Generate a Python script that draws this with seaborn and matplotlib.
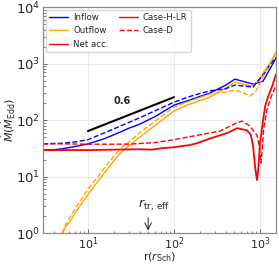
import numpy as np
import matplotlib
matplotlib.use("Agg")
from matplotlib import pyplot as plt
from matplotlib.lines import Line2D
import seaborn as sns

# Case-H-LR (solid)
r_in_h = [3, 4, 5, 7, 10, 15, 20, 30, 40, 60, 100, 150, 260, 400, 510, 650, 830, 1000, 1085, 1300, 1530]
in_h = [29.5, 30, 31, 34, 38, 46, 55, 72, 85, 115, 184, 225, 300, 417, 532, 480, 434, 470, 490, 800, 1250]
r_out_h = [5.1, 5.5, 6.2, 7, 8, 10, 12, 14, 17, 21, 25, 30, 40, 60, 100, 150, 260, 400, 510, 650, 800, 1000, 1100, 1300, 1530]
out_h = [1.0, 1.3, 1.6, 2.2, 3.0, 4.8, 7, 9.5, 14, 21, 28, 35, 50, 80, 145, 190, 255, 370, 470, 430, 400, 520, 710, 1000, 1600]
r_net_h = [3, 5, 10, 20, 40, 55, 75, 97, 150, 185, 260, 413, 541, 706, 780, 830, 880, 922, 960, 1000, 1085, 1150, 1240, 1400, 1535]
net_h = [29.5, 29.5, 29.5, 30, 30.5, 30, 32, 33, 36, 39, 47, 59, 72, 66, 55, 35, 14, 8.7, 15, 40, 100, 180, 260, 420, 650]

# Case-D (dashed)
r_in_d = [3, 5, 7, 10, 20, 40, 100, 150, 260, 400, 510, 650, 830, 1000, 1150, 1300, 1530]
in_d = [38, 39, 41, 45, 70, 110, 208, 260, 330, 360, 417, 400, 385, 550, 700, 950, 1300]
r_out_d = [5.0, 5.5, 6.2, 7, 8, 10, 12, 14, 17, 21, 25, 30, 40, 60, 100, 150, 260, 400, 510, 650, 765, 900, 1000, 1150, 1300, 1530]
out_d = [1.0, 1.4, 1.9, 2.6, 3.6, 6, 8.5, 11.5, 17, 25, 33, 41, 60, 95, 170, 215, 290, 315, 340, 300, 266, 330, 450, 700, 1000, 1500]
r_net_d = [3, 5, 10, 20, 31, 60, 97, 200, 343, 500, 617, 750, 922, 980, 1025, 1060, 1100, 1200, 1350, 1535]
net_d = [38, 38, 37.5, 37.5, 37.6, 40, 44.7, 55, 64, 85, 96, 80, 54, 35, 17.3, 30, 70, 150, 260, 420]

# slope guide
r_fit = [10, 100]
fit = [64, 255]

sns.set_theme(style="whitegrid")
plt.rcParams["font.family"] = ["DejaVu Sans"]
plt.rcParams["mathtext.fontset"] = "dejavusans"

fig = plt.figure(figsize=(2.79, 2.64), dpi=100)
ax = fig.add_axes([0.154, 0.117, 0.835, 0.856])

series = [
    (r_in_h, in_h, "blue", "-", 1.0),
    (r_out_h, out_h, "orange", "-", 1.0),
    (r_net_h, net_h, "red", "-", 1.3),
    (r_in_d, in_d, "blue", "--", 1.0),
    (r_out_d, out_d, "orange", "--", 1.0),
    (r_net_d, net_d, "red", "--", 1.0),
]
for xs, ys, c, ls, lw in series:
    sns.lineplot(x=xs, y=ys, ax=ax, color=c, linestyle=ls, linewidth=lw,
                 estimator=None, sort=False)

sns.lineplot(x=r_fit, y=fit, ax=ax, color="black", linewidth=1.5, estimator=None)
ax.text(24.8, 217, "0.6", fontsize=7, fontweight="bold", ha="center", va="center")

ax.set_xscale("log")
ax.set_yscale("log")
ax.set_xlim(3, 1530)
ax.set_ylim(1, 1e4)

ax.annotate("", xy=(50, 1.0), xytext=(50, 2.1),
            arrowprops=dict(arrowstyle="->", color="black", lw=0.6))
ax.text(58, 2.25, r"$r_{\rm tr,\,eff}$", fontsize=9, ha="center", va="bottom")

ax.set_xlabel(r"r($r_{\rm Sch}$)", fontsize=8)
ax.xaxis.set_label_coords(0.5, -0.078)
ax.set_ylabel(r"$\dot{M}(\dot{M}_{\rm Edd})$", fontsize=8)
ax.yaxis.set_label_coords(-0.11, 0.5)
ax.tick_params(axis="x", which="major", labelsize=8, pad=1.5)
ax.tick_params(axis="y", which="major", labelsize=9.5, pad=2)
ax.tick_params(which="both", direction="in", bottom=True, left=True, color="0.3")
ax.tick_params(which="major", length=3, width=0.6)
ax.tick_params(which="minor", length=1.8, width=0.5)
ax.grid(True, which="major", color="0.92", linewidth=0.8)
ax.grid(False, which="minor")
for s in ax.spines.values():
    s.set_color("0.55")
    s.set_linewidth(0.9)

handles = [
    Line2D([], [], color="blue", lw=1.0),
    Line2D([], [], color="orange", lw=1.0),
    Line2D([], [], color="red", lw=1.0),
    Line2D([], [], color="red", lw=1.0),
    Line2D([], [], color="red", lw=1.0, ls="--"),
]
labels = ["Inflow", "Outflow", "Net acc.", "Case-H-LR", "Case-D"]
ax.legend(handles, labels, ncol=2, loc="upper left", fontsize=6.2,
          frameon=True, handlelength=2.2, labelspacing=0.5, columnspacing=1.2,
          borderaxespad=0.3, handletextpad=0.6)

fig.savefig("out.png", dpi=100)
